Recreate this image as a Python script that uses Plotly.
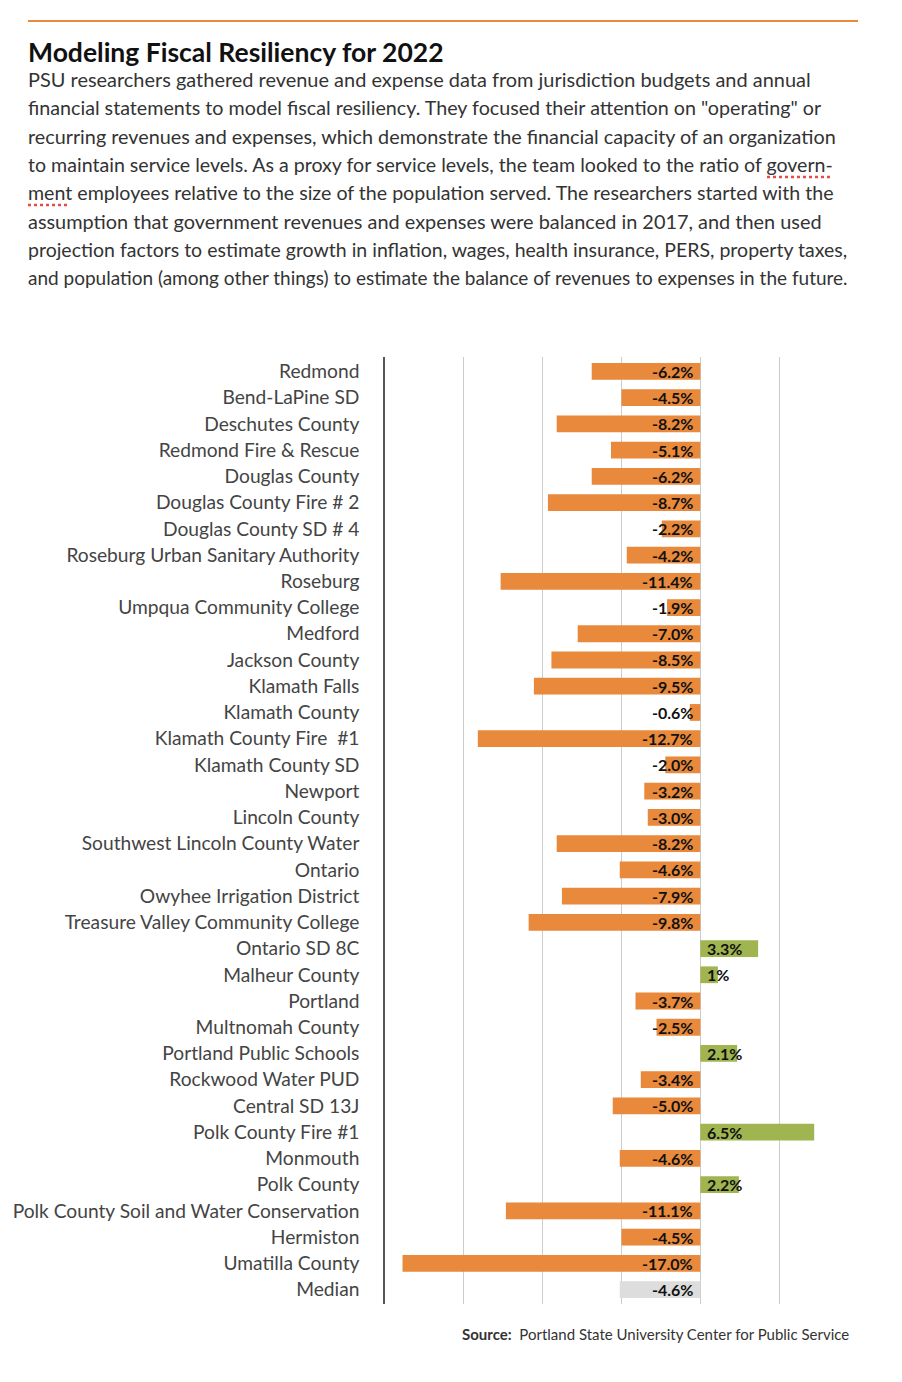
import plotly.graph_objects as go

categories = [
    "Redmond", "Bend-LaPine SD", "Deschutes County", "Redmond Fire & Rescue",
    "Douglas County", "Douglas County Fire # 2", "Douglas County SD # 4",
    "Roseburg Urban Sanitary Authority", "Roseburg", "Umpqua Community College",
    "Medford", "Jackson County", "Klamath Falls", "Klamath County",
    "Klamath County Fire  #1", "Klamath County SD", "Newport", "Lincoln County",
    "Southwest Lincoln County Water", "Ontario", "Owyhee Irrigation District",
    "Treasure Valley Community College", "Ontario SD 8C", "Malheur County",
    "Portland", "Multnomah County", "Portland Public Schools", "Rockwood Water PUD",
    "Central SD 13J", "Polk County Fire #1", "Monmouth", "Polk County",
    "Polk County Soil and Water Conservation", "Hermiston", "Umatilla County", "Median",
]
values = [
    -6.2, -4.5, -8.2, -5.1, -6.2, -8.7, -2.2, -4.2, -11.4, -1.9,
    -7.0, -8.5, -9.5, -0.6, -12.7, -2.0, -3.2, -3.0, -8.2, -4.6,
    -7.9, -9.8, 3.3, 1.0, -3.7, -2.5, 2.1, -3.4, -5.0, 6.5,
    -4.6, 2.2, -11.1, -4.5, -17.0, -4.6,
]
value_labels = [
    "-6.2%", "-4.5%", "-8.2%", "-5.1%", "-6.2%", "-8.7%", "-2.2%", "-4.2%", "-11.4%", "-1.9%",
    "-7.0%", "-8.5%", "-9.5%", "-0.6%", "-12.7%", "-2.0%", "-3.2%", "-3.0%", "-8.2%", "-4.6%",
    "-7.9%", "-9.8%", "3.3%", "1%", "-3.7%", "-2.5%", "2.1%", "-3.4%", "-5.0%", "6.5%",
    "-4.6%", "2.2%", "-11.1%", "-4.5%", "-17.0%", "-4.6%",
]
title = "Modeling Fiscal Resiliency for 2022"
paragraph_lines = [
    "PSU researchers gathered revenue and expense data from jurisdiction budgets and annual",
    "financial statements to model fiscal resiliency. They focused their attention on \"operating\" or",
    "recurring revenues and expenses, which demonstrate the financial capacity of an organization",
    "to maintain service levels. As a proxy for service levels, the team looked to the ratio of govern-",
    "ment employees relative to the size of the population served. The researchers started with the",
    "assumption that government revenues and expenses were balanced in 2017, and then used",
    "projection factors to estimate growth in inflation, wages, health insurance, PERS, property taxes,",
    "and population (among other things) to estimate the balance of revenues to expenses in the future.",
]
source_label = "Source:"
source_text = "Portland State University Center for Public Service"

# per-line font sizes so each line's width follows the original typesetting
paragraph_sizes = [19.95, 19.7, 19.8, 19.6, 19.6, 19.9, 19.5, 19.0]

ORANGE = "#E8893B"
GREEN = "#A0B550"
GREY = "#DDDDDD"

colors = []
for c, v in zip(categories, values):
    if c == "Median":
        colors.append(GREY)
    elif v >= 0:
        colors.append(GREEN)
    else:
        colors.append(ORANGE)

# page offset caused by the default body margin
OFF = 8
W, H = 886, 1366
L = 385 - OFF
T = 357 - OFF
R = W - (858 - OFF)
B = H - (1304 - OFF)
plot_w = W - L - R
plot_h = H - T - B

def px(x):
    return (x - OFF - L) / plot_w

def py(y):
    return (H - B - (y - OFF)) / plot_h

fig = go.Figure()
fig.add_trace(go.Bar(
    y=categories, x=values, orientation="h",
    marker=dict(color=colors, line=dict(width=0)),
    hoverinfo="skip", showlegend=False,
))

annotations = []
for c, v, t in zip(categories, values, value_labels):
    neg = v < 0
    annotations.append(dict(
        text="<b>" + t + "</b>", x=0, y=c, xref="x", yref="y",
        xanchor="right" if neg else "left", yanchor="middle",
        xshift=-5 if neg else 5, showarrow=False,
        font=dict(family="Lato", size=16, color="#111111"),
    ))
annotations.append(dict(
    text="<b>" + title + "</b>", x=px(26), y=py(52), xref="paper", yref="paper",
    xanchor="left", yanchor="middle", showarrow=False,
    font=dict(family="Lato", size=26.5, color="#111111"),
))
for k, (line, fs) in enumerate(zip(paragraph_lines, paragraph_sizes)):
    annotations.append(dict(
        text=line, x=px(26), y=py(78.8 + k * 28.45), xref="paper", yref="paper",
        xanchor="left", yanchor="middle", showarrow=False,
        font=dict(family="Lato", size=fs, color="#333333"),
    ))
annotations.append(dict(
    text="<b>" + source_label + "</b>  " + source_text, x=px(851), y=py(1334),
    xref="paper", yref="paper", xanchor="right", yanchor="middle", showarrow=False,
    font=dict(family="Lato", size=15, color="#333333"),
))

shapes = [
    dict(type="line", xref="paper", yref="paper",
         x0=px(28), x1=px(858), y0=py(21), y1=py(21),
         line=dict(color=ORANGE, width=2)),
    dict(type="line", xref="paper", yref="paper",
         x0=px(767), x1=px(832), y0=py(177), y1=py(177),
         line=dict(color="#E84A4A", width=2.5, dash="dot")),
    dict(type="line", xref="paper", yref="paper",
         x0=px(28), x1=px(70), y0=py(205), y1=py(205),
         line=dict(color="#E84A4A", width=2.5, dash="dot")),
]

fig.update_layout(
    width=W, height=H, autosize=False,
    margin=dict(l=L, r=R, t=T, b=B, pad=0, autoexpand=False),
    paper_bgcolor="white", plot_bgcolor="white",
    bargap=0.36,
    annotations=annotations,
    shapes=shapes,
    xaxis=dict(range=[-18, 9], dtick=4.5, tick0=0, showticklabels=False,
               showgrid=True, gridcolor="#CCCCCC", gridwidth=1.2, automargin=False,
               zeroline=False, showline=False, ticks="", fixedrange=True),
    yaxis=dict(autorange=False, range=[35.55, -0.55], automargin=False,
               showline=True, linecolor="#555555", linewidth=1.5,
               ticks="", showgrid=False, ticklabelstandoff=20,
               tickfont=dict(family="Lato", size=19.2, color="#444444")),
)

fig.write_html("out.html")
